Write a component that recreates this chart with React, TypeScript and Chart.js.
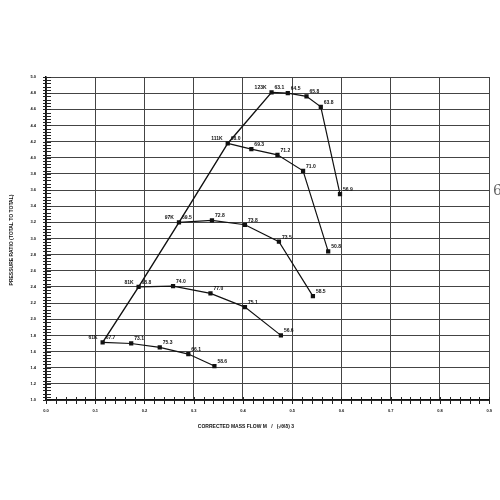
import React, { useEffect, useRef } from "react";
import { Chart, registerables } from "chart.js";
Chart.register(...registerables);

const speedLabels = ["61K", "81K", "97K", "111K", "123K"];

const flow61 = [0.115, 0.173, 0.231, 0.289, 0.342];
const pr61 = [1.714, 1.7, 1.652, 1.569, 1.421];
const eff61 = ["67.7", "73.1", "75.3", "66.1", "58.6"];

const flow81 = [0.188, 0.258, 0.334, 0.404, 0.477];
const pr81 = [2.4, 2.41, 2.32, 2.15, 1.8];
const eff81 = ["68.8", "74.0", "77.0", "75.1", "56.6"];

const flow97 = [0.27, 0.337, 0.404, 0.473, 0.542];
const pr97 = [3.2, 3.224, 3.17, 2.96, 2.287];
const eff97 = ["69.5", "72.8", "73.8", "73.5", "58.5"];

const flow111 = [0.369, 0.417, 0.47, 0.522, 0.573];
const pr111 = [4.177, 4.106, 4.036, 3.838, 2.84];
const eff111 = ["68.0", "69.3", "71.2", "71.0", "50.8"];

const flow123 = [0.458, 0.491, 0.529, 0.558, 0.597];
const pr123 = [4.81, 4.8, 4.76, 4.63, 3.55];
const eff123 = ["63.1", "64.5", "65.8", "63.8", "56.9"];

const xTitle = "CORRECTED MASS FLOW M   /   (\u221A\u03B8/\u03B4) 3";
const yTitle = "PRESSURE RATIO (TOTAL TO TOTAL)";
const marginNote = "6";

const X_MIN = 0, X_MAX = 0.9, X_STEP = 0.02, X_MAJOR = 0.1;
const Y_MIN = 1, Y_MAX = 5, Y_STEP = 0.04, Y_MAJOR = 0.2;

const lines = [
  { speed: speedLabels[0], flow: flow61, pr: pr61, eff: eff61 },
  { speed: speedLabels[1], flow: flow81, pr: pr81, eff: eff81 },
  { speed: speedLabels[2], flow: flow97, pr: pr97, eff: eff97 },
  { speed: speedLabels[3], flow: flow111, pr: pr111, eff: eff111 },
  { speed: speedLabels[4], flow: flow123, pr: pr123, eff: eff123 },
];

const isMajor = (v: number, step: number) =>
  Math.abs(v / step - Math.round(v / step)) < 1e-6;

const FONT = '"Liberation Sans", Arial, sans-serif';

const labelPlugin = {
  id: "ptLabels",
  afterDraw(chart: any) {
    const c = chart.ctx as CanvasRenderingContext2D;
    const xs = chart.scales.x;
    const ys = chart.scales.y;
    const area = chart.chartArea;
    c.save();
    // minor/major tick marks crossing the axes
    c.strokeStyle = "#222";
    c.lineWidth = 1;
    c.beginPath();
    xs.ticks.forEach((t: any) => {
      const px = Math.round(xs.getPixelForValue(t.value)) + 0.5;
      c.moveTo(px, area.bottom - 3);
      c.lineTo(px, area.bottom + 4);
    });
    ys.ticks.forEach((t: any) => {
      const py = Math.round(ys.getPixelForValue(t.value)) + 0.5;
      c.moveTo(area.left - 3, py);
      c.lineTo(area.left + 5, py);
    });
    c.stroke();

    c.fillStyle = "#111";
    c.font = `bold 5px ${FONT}`;
    lines.forEach((line) => {
      line.flow.forEach((f, i) => {
        const px = xs.getPixelForValue(f);
        const py = ys.getPixelForValue(line.pr[i]);
        c.textAlign = "left";
        c.textBaseline = "bottom";
        c.fillText(line.eff[i], px + 3, py - 2);
      });
      const px0 = xs.getPixelForValue(line.flow[0]);
      const py0 = ys.getPixelForValue(line.pr[0]);
      c.textAlign = "right";
      c.textBaseline = "bottom";
      c.fillText(line.speed, px0 - 5, py0 - 2);
    });
    // axis titles
    c.font = `bold 5px ${FONT}`;
    c.textAlign = "center";
    c.textBaseline = "middle";
    c.fillText(xTitle, 246, 427);
    c.save();
    c.translate(12, 240);
    c.rotate(-Math.PI / 2);
    c.fillText(yTitle, 0, 0);
    c.restore();
    // handwritten margin mark
    c.font = `14px "DejaVu Serif", serif`;
    c.textAlign = "left";
    c.fillStyle = "#666";
    c.fillText(marginNote, 493, 191);
    c.restore();
  },
};

export default function App() {
  const ref = useRef<HTMLCanvasElement>(null);
  useEffect(() => {
    const canvas = ref.current!;
    const mk = (xs: number[], ys: number[]) => xs.map((x, i) => ({ x, y: ys[i] }));
    const speedSets = lines.map((l) => ({
      label: l.speed,
      data: mk(l.flow, l.pr),
      showLine: true,
      borderColor: "#111",
      backgroundColor: "#111",
      borderWidth: 1.2,
      pointStyle: "rect" as const,
      pointRadius: 3,
      pointBorderWidth: 0,
    }));
    const surge = {
      label: "surge",
      data: lines.map((l) => ({ x: l.flow[0], y: l.pr[0] })),
      showLine: true,
      borderColor: "#111",
      backgroundColor: "#111",
      borderWidth: 1.4,
      pointRadius: 0,
    };
    const chart = new Chart(canvas, {
      type: "scatter",
      data: { datasets: [surge, ...speedSets] as any },
      options: {
        responsive: false,
        animation: false,
        layout: { padding: { left: 0, top: 77, right: 7, bottom: 40 } },
        plugins: { legend: { display: false }, tooltip: { enabled: false } },
        scales: {
          x: {
            type: "linear",
            min: X_MIN,
            max: X_MAX,
            afterFit: (s: any) => { s.height = 60; },
            ticks: {
              stepSize: X_STEP,
              autoSkip: false,
              maxRotation: 0,
              padding: 8,
              color: "#111",
              font: { size: 4, weight: "bold", family: FONT },
              callback: (v: any) => (isMajor(Number(v), X_MAJOR) ? Number(v).toFixed(1) : ""),
            },
            grid: {
              color: (ctx: any) => (ctx.tick && isMajor(ctx.tick.value, X_MAJOR) ? "#444" : "rgba(0,0,0,0)"),
              lineWidth: 1,
              drawTicks: false,
            },
            border: { color: "#111", width: 1.5 },
          },
          y: {
            type: "linear",
            min: Y_MIN,
            max: Y_MAX,
            afterFit: (s: any) => { s.width = 46; },
            ticks: {
              stepSize: Y_STEP,
              autoSkip: false,
              padding: 10,
              color: "#111",
              font: { size: 4, weight: "bold", family: FONT },
              callback: (v: any) => (isMajor(Number(v) - Y_MIN, Y_MAJOR) ? Number(v).toFixed(1) : ""),
            },
            grid: {
              color: (ctx: any) =>
                ctx.tick && isMajor(ctx.tick.value - Y_MIN, Y_MAJOR) ? "#444" : "rgba(0,0,0,0)",
              lineWidth: 1,
              drawTicks: false,
            },
            border: { color: "#111", width: 1.5 },
          },
        },
      },
      plugins: [labelPlugin],
    });
    return () => chart.destroy();
  }, []);
  return (
    <div style={{ position: "fixed", left: 0, top: 0, width: 500, height: 500, background: "#fff" }}>
      <canvas ref={ref} width={500} height={500} style={{ display: "block" }} />
    </div>
  );
}
